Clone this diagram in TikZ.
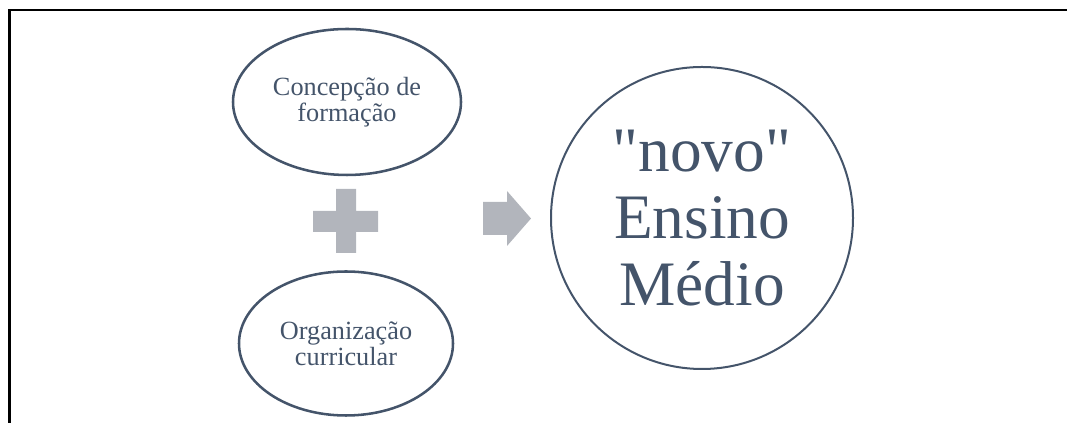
\documentclass[tikz,border=0pt]{standalone}
\usepackage{fontspec}
\setmainfont{Liberation Serif}[Ligatures=TeXOff]
\usepackage{tikz}
\usetikzlibrary{shapes}
\definecolor{slate}{HTML}{44546A}
\definecolor{greyfill}{HTML}{B2B5BC}

\begin{document}
\begin{tikzpicture}[x=0.75pt,y=0.75pt,
		oval/.style={draw=slate,ellipse,line width=1.9pt,text=slate,align=center,inner sep=0pt,font=\fontsize{19.7}{19.5}\selectfont},
		bigcircle/.style={draw=slate,circle,line width=1.5pt,text=slate,align=center,inner sep=0pt,minimum size=226.5pt,font=\fontsize{47.5}{50}\selectfont}]
		\useasboundingbox (0,0) rectangle (1067,423);
		\draw [line width=1.9pt] (9.7,0) -- (9.7,412.8) -- (1067,412.8);
		\node [oval,minimum width=171pt,minimum height=109.5pt] at (347,321) (conc) {Concepção de\\formação};
		\node [oval,minimum width=160.5pt,minimum height=108pt] at (346,79.5) (org) {Organização\\curricular};
		% plus sign
		\fill [color=greyfill] (336,234) -- (356,234) -- (356,212) -- (378,212) -- (378,191) -- (356,191) -- (356,170) -- (336,170) -- (336,191) -- (313,191) -- (313,212) -- (336,212) -- cycle;
		% block arrow
		\fill [color=greyfill] (483,221) -- (507,221) -- (507,232) -- (531,204.5) -- (507,177) -- (507,188) -- (483,188) -- cycle;
		\node [bigcircle] at (702,205) (novo) {"novo"\\Ensino\\Médio};
	\end{tikzpicture}
\end{document}
